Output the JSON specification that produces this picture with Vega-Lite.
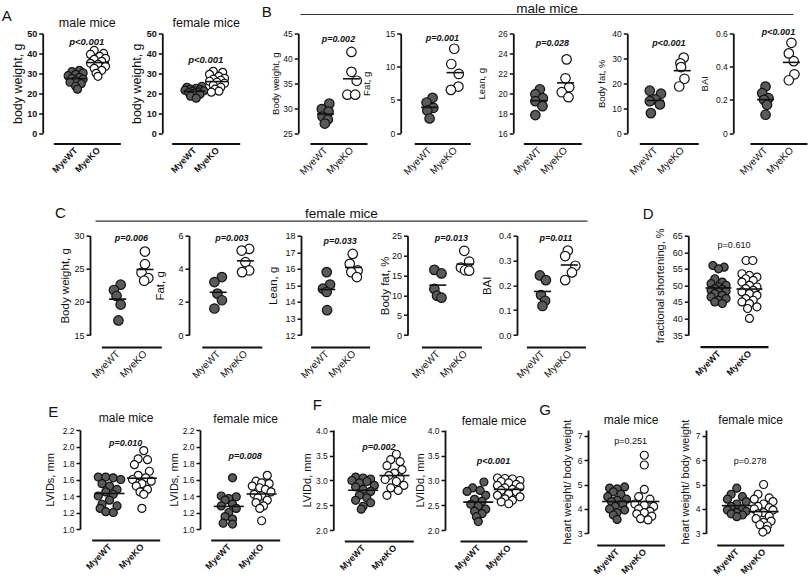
{
"$schema":"https://vega.github.io/schema/vega-lite/v6.json",
"autosize":{"type":"none"},
"padding":{"left":53.3,"top":33.5,"right":756.7,"bottom":546.5},
"background":"white",
"config":{
 "view":{"stroke":null},
 "font":"Liberation Sans",
 "axis":{"grid":false,"domainColor":"#111","tickColor":"#111","labelColor":"#111","titleColor":"#111","titleFontWeight":"normal","labelFont":"Liberation Sans","titleFont":"Liberation Sans","labelOverlap":false},
 "axisY":{"domainWidth":1.8,"tickWidth":1.5,"tickSize":4,"labelPadding":2,"titlePadding":2,"labelOverlap":false,"labelBound":false,"labelFlush":false},
 "axisBottom":{"domainWidth":2.2,"ticks":false,"labelAngle":-45,"labelAlign":"right","labelBaseline":"middle","labelPadding":5,"labelOverlap":false},
 "axisTop":{"domain":false,"ticks":false,"labels":false,"titlePadding":4},
 "title":{"anchor":"start","frame":"group","fontSize":15,"fontWeight":"normal","offset":0,"color":"#111","font":"Liberation Sans"},
 "text":{"font":"Liberation Sans"}
},
"datasets":{
 "pv":[
  {"p":"A1","t":"p<0.001"},{"p":"A2","t":"p<0.001"},
  {"p":"B1","t":"p=0.002"},{"p":"B2","t":"p=0.001"},{"p":"B3","t":"p=0.028"},{"p":"B4","t":"p<0.001"},{"p":"B5","t":"p<0.001"},
  {"p":"C1","t":"p=0.006"},{"p":"C2","t":"p=0.003"},{"p":"C3","t":"p=0.033"},{"p":"C4","t":"p=0.013"},{"p":"C5","t":"p=0.011"},
  {"p":"D","t":"p=0.610"},
  {"p":"E1","t":"p=0.010"},{"p":"E2","t":"p=0.008"},
  {"p":"F1","t":"p=0.002"},{"p":"F2","t":"p<0.001"},
  {"p":"G1","t":"p=0.251"},{"p":"G2","t":"p=0.278"}
 ],
 "pts":[
  {"p":"A1","g":"MyeWT","v":31.5,"j":1},{"p":"A1","g":"MyeWT","v":30.8,"j":-1},{"p":"A1","g":"MyeWT","v":30.2,"j":2},{"p":"A1","g":"MyeWT","v":29.5,"j":0},{"p":"A1","g":"MyeWT","v":28.8,"j":-2},{"p":"A1","g":"MyeWT","v":28,"j":1},{"p":"A1","g":"MyeWT","v":27.5,"j":-1},{"p":"A1","g":"MyeWT","v":27,"j":2},{"p":"A1","g":"MyeWT","v":26.3,"j":0},{"p":"A1","g":"MyeWT","v":25.5,"j":-1.5},{"p":"A1","g":"MyeWT","v":24.8,"j":1.5},{"p":"A1","g":"MyeWT","v":23.5,"j":0},{"p":"A1","g":"MyeWT","v":22,"j":0.5},
  {"p":"A1","g":"MyeKO","v":41.5,"j":-1},{"p":"A1","g":"MyeKO","v":40,"j":1.5},{"p":"A1","g":"MyeKO","v":39.5,"j":-2},{"p":"A1","g":"MyeKO","v":38.5,"j":0.5},{"p":"A1","g":"MyeKO","v":37.5,"j":2},{"p":"A1","g":"MyeKO","v":37,"j":-1},{"p":"A1","g":"MyeKO","v":36,"j":1},{"p":"A1","g":"MyeKO","v":35,"j":-2},{"p":"A1","g":"MyeKO","v":34.5,"j":0},{"p":"A1","g":"MyeKO","v":33.5,"j":2},{"p":"A1","g":"MyeKO","v":32.5,"j":-1},{"p":"A1","g":"MyeKO","v":31.5,"j":1},{"p":"A1","g":"MyeKO","v":30,"j":-0.5},{"p":"A1","g":"MyeKO","v":28.5,"j":0},
  {"p":"A2","g":"MyeWT","v":23.5,"j":2},{"p":"A2","g":"MyeWT","v":23,"j":-2},{"p":"A2","g":"MyeWT","v":22.5,"j":0.5},{"p":"A2","g":"MyeWT","v":22,"j":-1},{"p":"A2","g":"MyeWT","v":21.8,"j":1.5},{"p":"A2","g":"MyeWT","v":21.5,"j":-2.5},{"p":"A2","g":"MyeWT","v":21.2,"j":2.5},{"p":"A2","g":"MyeWT","v":21,"j":-0.5},{"p":"A2","g":"MyeWT","v":20.7,"j":1},{"p":"A2","g":"MyeWT","v":20.3,"j":-1.5},{"p":"A2","g":"MyeWT","v":20,"j":0},{"p":"A2","g":"MyeWT","v":19.5,"j":1.5},{"p":"A2","g":"MyeWT","v":18.5,"j":-1},{"p":"A2","g":"MyeWT","v":17.5,"j":0.5},
  {"p":"A2","g":"MyeKO","v":31,"j":-1},{"p":"A2","g":"MyeKO","v":30.5,"j":1.5},{"p":"A2","g":"MyeKO","v":29.5,"j":-2},{"p":"A2","g":"MyeKO","v":28.5,"j":0.5},{"p":"A2","g":"MyeKO","v":27.5,"j":2},{"p":"A2","g":"MyeKO","v":27,"j":-1},{"p":"A2","g":"MyeKO","v":26.5,"j":1},{"p":"A2","g":"MyeKO","v":26,"j":-2},{"p":"A2","g":"MyeKO","v":25.5,"j":0},{"p":"A2","g":"MyeKO","v":25,"j":2},{"p":"A2","g":"MyeKO","v":24,"j":-1},{"p":"A2","g":"MyeKO","v":23,"j":1},{"p":"A2","g":"MyeKO","v":22,"j":-0.5},{"p":"A2","g":"MyeKO","v":21,"j":0.5},{"p":"A2","g":"MyeKO","v":20.5,"j":-1.5},
  {"p":"B1","g":"MyeWT","v":30.9,"j":1},{"p":"B1","g":"MyeWT","v":29.8,"j":-1},{"p":"B1","g":"MyeWT","v":29.3,"j":0.8},{"p":"B1","g":"MyeWT","v":28.3,"j":-0.8},{"p":"B1","g":"MyeWT","v":27.7,"j":0.6},{"p":"B1","g":"MyeWT","v":26.9,"j":-0.2},
  {"p":"B1","g":"MyeKO","v":41.3,"j":0},{"p":"B1","g":"MyeKO","v":37.3,"j":0},{"p":"B1","g":"MyeKO","v":35.5,"j":1.4},{"p":"B1","g":"MyeKO","v":32.7,"j":-1.1},{"p":"B1","g":"MyeKO","v":32.7,"j":1.0},
  {"p":"B2","g":"MyeWT","v":5.3,"j":0.8},{"p":"B2","g":"MyeWT","v":4.6,"j":-0.8},{"p":"B2","g":"MyeWT","v":3.8,"j":1},{"p":"B2","g":"MyeWT","v":3.4,"j":-0.6},{"p":"B2","g":"MyeWT","v":2.2,"j":0},
  {"p":"B2","g":"MyeKO","v":12.7,"j":-0.2},{"p":"B2","g":"MyeKO","v":10.4,"j":-1},{"p":"B2","g":"MyeKO","v":8.9,"j":1},{"p":"B2","g":"MyeKO","v":7.0,"j":0.9},{"p":"B2","g":"MyeKO","v":6.5,"j":-1.1},
  {"p":"B3","g":"MyeWT","v":20.4,"j":0.2},{"p":"B3","g":"MyeWT","v":19.9,"j":-1},{"p":"B3","g":"MyeWT","v":19.5,"j":1},{"p":"B3","g":"MyeWT","v":19.2,"j":-1},{"p":"B3","g":"MyeWT","v":18.7,"j":0.9},{"p":"B3","g":"MyeWT","v":17.8,"j":-1},
  {"p":"B3","g":"MyeKO","v":23.4,"j":0.3},{"p":"B3","g":"MyeKO","v":21.5,"j":0},{"p":"B3","g":"MyeKO","v":20.6,"j":1},{"p":"B3","g":"MyeKO","v":20.1,"j":-1},{"p":"B3","g":"MyeKO","v":19.6,"j":0.8},
  {"p":"B4","g":"MyeWT","v":17,"j":-1.5},{"p":"B4","g":"MyeWT","v":15.8,"j":1.5},{"p":"B4","g":"MyeWT","v":13.5,"j":0},{"p":"B4","g":"MyeWT","v":12.8,"j":-1.5},{"p":"B4","g":"MyeWT","v":11.5,"j":1.2},{"p":"B4","g":"MyeWT","v":8,"j":-1.2},
  {"p":"B4","g":"MyeKO","v":30.3,"j":0.4},{"p":"B4","g":"MyeKO","v":28,"j":-0.5},{"p":"B4","g":"MyeKO","v":26.5,"j":-0.3},{"p":"B4","g":"MyeKO","v":21.8,"j":0.6},{"p":"B4","g":"MyeKO","v":18.7,"j":-0.8},
  {"p":"B5","g":"MyeWT","v":0.28,"j":0},{"p":"B5","g":"MyeWT","v":0.24,"j":-0.9},{"p":"B5","g":"MyeWT","v":0.21,"j":0.8},{"p":"B5","g":"MyeWT","v":0.20,"j":-0.4},{"p":"B5","g":"MyeWT","v":0.17,"j":0.4},{"p":"B5","g":"MyeWT","v":0.11,"j":0},
  {"p":"B5","g":"MyeKO","v":0.544,"j":0},{"p":"B5","g":"MyeKO","v":0.48,"j":-0.7},{"p":"B5","g":"MyeKO","v":0.433,"j":0.6},{"p":"B5","g":"MyeKO","v":0.354,"j":0.8},{"p":"B5","g":"MyeKO","v":0.318,"j":-0.7},
  {"p":"C1","g":"MyeWT","v":22.6,"j":0.8},{"p":"C1","g":"MyeWT","v":21.8,"j":-1},{"p":"C1","g":"MyeWT","v":20.9,"j":-0.3},{"p":"C1","g":"MyeWT","v":19.6,"j":0.8},{"p":"C1","g":"MyeWT","v":17.2,"j":0.2},
  {"p":"C1","g":"MyeKO","v":27.6,"j":0},{"p":"C1","g":"MyeKO","v":25.7,"j":0},{"p":"C1","g":"MyeKO","v":24.4,"j":-0.9},{"p":"C1","g":"MyeKO","v":23.6,"j":0.9},{"p":"C1","g":"MyeKO","v":23.2,"j":-0.2},
  {"p":"C2","g":"MyeWT","v":3.5,"j":1},{"p":"C2","g":"MyeWT","v":3.2,"j":-1},{"p":"C2","g":"MyeWT","v":2.5,"j":-0.2},{"p":"C2","g":"MyeWT","v":2.1,"j":1},{"p":"C2","g":"MyeWT","v":1.6,"j":-1},
  {"p":"C2","g":"MyeKO","v":5.2,"j":1},{"p":"C2","g":"MyeKO","v":5.1,"j":-1},{"p":"C2","g":"MyeKO","v":4.4,"j":0},{"p":"C2","g":"MyeKO","v":3.9,"j":1},{"p":"C2","g":"MyeKO","v":3.8,"j":-0.9},
  {"p":"C3","g":"MyeWT","v":15.8,"j":0},{"p":"C3","g":"MyeWT","v":15.05,"j":0.9},{"p":"C3","g":"MyeWT","v":14.8,"j":-1},{"p":"C3","g":"MyeWT","v":14.6,"j":0},{"p":"C3","g":"MyeWT","v":13.5,"j":0.1},
  {"p":"C3","g":"MyeKO","v":16.9,"j":-0.2},{"p":"C3","g":"MyeKO","v":16.3,"j":-1},{"p":"C3","g":"MyeKO","v":15.9,"j":1.1},{"p":"C3","g":"MyeKO","v":15.8,"j":-0.6},{"p":"C3","g":"MyeKO","v":15.5,"j":0.9},
  {"p":"C4","g":"MyeWT","v":16.4,"j":-0.9},{"p":"C4","g":"MyeWT","v":15.5,"j":1},{"p":"C4","g":"MyeWT","v":11.6,"j":-0.9},{"p":"C4","g":"MyeWT","v":9.9,"j":-0.2},{"p":"C4","g":"MyeWT","v":9.4,"j":1},
  {"p":"C4","g":"MyeKO","v":21.2,"j":-0.2},{"p":"C4","g":"MyeKO","v":18.5,"j":1.1},{"p":"C4","g":"MyeKO","v":17.0,"j":-1.1},{"p":"C4","g":"MyeKO","v":16.3,"j":0},{"p":"C4","g":"MyeKO","v":16.2,"j":1.1},
  {"p":"C5","g":"MyeWT","v":0.24,"j":-0.7},{"p":"C5","g":"MyeWT","v":0.221,"j":0.9},{"p":"C5","g":"MyeWT","v":0.161,"j":-0.4},{"p":"C5","g":"MyeWT","v":0.138,"j":0.7},{"p":"C5","g":"MyeWT","v":0.117,"j":0},
  {"p":"C5","g":"MyeKO","v":0.34,"j":-0.4},{"p":"C5","g":"MyeKO","v":0.318,"j":-1.1},{"p":"C5","g":"MyeKO","v":0.279,"j":1.6},{"p":"C5","g":"MyeKO","v":0.252,"j":0.7},{"p":"C5","g":"MyeKO","v":0.221,"j":-1.1},
  {"p":"D","g":"MyeWT","v":56,"j":-1.5},{"p":"D","g":"MyeWT","v":55.5,"j":1.5},{"p":"D","g":"MyeWT","v":55,"j":0},{"p":"D","g":"MyeWT","v":52,"j":-1},{"p":"D","g":"MyeWT","v":51,"j":1},{"p":"D","g":"MyeWT","v":50.5,"j":-2},{"p":"D","g":"MyeWT","v":50,"j":2},{"p":"D","g":"MyeWT","v":49.5,"j":0},{"p":"D","g":"MyeWT","v":49,"j":-1},{"p":"D","g":"MyeWT","v":48.8,"j":1},{"p":"D","g":"MyeWT","v":48.5,"j":-2},{"p":"D","g":"MyeWT","v":48.2,"j":2},{"p":"D","g":"MyeWT","v":48,"j":0},{"p":"D","g":"MyeWT","v":47.5,"j":-1},{"p":"D","g":"MyeWT","v":47,"j":1},{"p":"D","g":"MyeWT","v":46.5,"j":-2},{"p":"D","g":"MyeWT","v":46,"j":2},{"p":"D","g":"MyeWT","v":45.5,"j":0},{"p":"D","g":"MyeWT","v":45,"j":-1},{"p":"D","g":"MyeWT","v":44.5,"j":1},
  {"p":"D","g":"MyeKO","v":57.5,"j":-0.9},{"p":"D","g":"MyeKO","v":57.5,"j":0.9},{"p":"D","g":"MyeKO","v":53.5,"j":-2},{"p":"D","g":"MyeKO","v":53,"j":0},{"p":"D","g":"MyeKO","v":52.5,"j":2},{"p":"D","g":"MyeKO","v":52,"j":-1},{"p":"D","g":"MyeKO","v":51.5,"j":1},{"p":"D","g":"MyeKO","v":51,"j":-2},{"p":"D","g":"MyeKO","v":50,"j":0},{"p":"D","g":"MyeKO","v":49.5,"j":2},{"p":"D","g":"MyeKO","v":49,"j":-1},{"p":"D","g":"MyeKO","v":48.5,"j":1},{"p":"D","g":"MyeKO","v":48,"j":-2},{"p":"D","g":"MyeKO","v":47.5,"j":0},{"p":"D","g":"MyeKO","v":47,"j":2},{"p":"D","g":"MyeKO","v":46,"j":-1},{"p":"D","g":"MyeKO","v":45.5,"j":1},{"p":"D","g":"MyeKO","v":45,"j":-2},{"p":"D","g":"MyeKO","v":44.5,"j":0},{"p":"D","g":"MyeKO","v":43.5,"j":2},{"p":"D","g":"MyeKO","v":43,"j":-0.5},{"p":"D","g":"MyeKO","v":40,"j":0},
  {"p":"E1","g":"MyeWT","v":1.63,"j":-3},{"p":"E1","g":"MyeWT","v":1.63,"j":-1},{"p":"E1","g":"MyeWT","v":1.62,"j":1},{"p":"E1","g":"MyeWT","v":1.6,"j":3},{"p":"E1","g":"MyeWT","v":1.55,"j":-2},{"p":"E1","g":"MyeWT","v":1.52,"j":0},{"p":"E1","g":"MyeWT","v":1.48,"j":2},{"p":"E1","g":"MyeWT","v":1.45,"j":-1},{"p":"E1","g":"MyeWT","v":1.42,"j":1},{"p":"E1","g":"MyeWT","v":1.4,"j":-3},{"p":"E1","g":"MyeWT","v":1.35,"j":0},{"p":"E1","g":"MyeWT","v":1.3,"j":-2},{"p":"E1","g":"MyeWT","v":1.28,"j":2},{"p":"E1","g":"MyeWT","v":1.25,"j":-2.5},{"p":"E1","g":"MyeWT","v":1.21,"j":-1},{"p":"E1","g":"MyeWT","v":1.2,"j":1},
  {"p":"E1","g":"MyeKO","v":1.95,"j":0.5},{"p":"E1","g":"MyeKO","v":1.85,"j":-1},{"p":"E1","g":"MyeKO","v":1.84,"j":1.5},{"p":"E1","g":"MyeKO","v":1.78,"j":-2},{"p":"E1","g":"MyeKO","v":1.7,"j":2},{"p":"E1","g":"MyeKO","v":1.65,"j":-1},{"p":"E1","g":"MyeKO","v":1.62,"j":1},{"p":"E1","g":"MyeKO","v":1.6,"j":-2.5},{"p":"E1","g":"MyeKO","v":1.58,"j":2.5},{"p":"E1","g":"MyeKO","v":1.55,"j":0},{"p":"E1","g":"MyeKO","v":1.52,"j":-1.5},{"p":"E1","g":"MyeKO","v":1.48,"j":1.5},{"p":"E1","g":"MyeKO","v":1.45,"j":-0.5},{"p":"E1","g":"MyeKO","v":1.42,"j":0.5},{"p":"E1","g":"MyeKO","v":1.25,"j":0},
  {"p":"E2","g":"MyeWT","v":1.62,"j":1},{"p":"E2","g":"MyeWT","v":1.4,"j":-2},{"p":"E2","g":"MyeWT","v":1.39,"j":2},{"p":"E2","g":"MyeWT","v":1.37,"j":0},{"p":"E2","g":"MyeWT","v":1.35,"j":-1},{"p":"E2","g":"MyeWT","v":1.3,"j":1},{"p":"E2","g":"MyeWT","v":1.28,"j":-2},{"p":"E2","g":"MyeWT","v":1.25,"j":2},{"p":"E2","g":"MyeWT","v":1.2,"j":0},{"p":"E2","g":"MyeWT","v":1.15,"j":-1},{"p":"E2","g":"MyeWT","v":1.12,"j":1},{"p":"E2","g":"MyeWT","v":1.07,"j":-1.5},{"p":"E2","g":"MyeWT","v":1.06,"j":1},
  {"p":"E2","g":"MyeKO","v":1.65,"j":1.5},{"p":"E2","g":"MyeKO","v":1.58,"j":-1.5},{"p":"E2","g":"MyeKO","v":1.56,"j":0},{"p":"E2","g":"MyeKO","v":1.55,"j":2},{"p":"E2","g":"MyeKO","v":1.52,"j":-2.5},{"p":"E2","g":"MyeKO","v":1.5,"j":-0.5},{"p":"E2","g":"MyeKO","v":1.48,"j":1},{"p":"E2","g":"MyeKO","v":1.45,"j":2.5},{"p":"E2","g":"MyeKO","v":1.42,"j":-2},{"p":"E2","g":"MyeKO","v":1.4,"j":0},{"p":"E2","g":"MyeKO","v":1.38,"j":-1},{"p":"E2","g":"MyeKO","v":1.35,"j":1.5},{"p":"E2","g":"MyeKO","v":1.32,"j":-1.5},{"p":"E2","g":"MyeKO","v":1.28,"j":0.5},{"p":"E2","g":"MyeKO","v":1.25,"j":-0.5},{"p":"E2","g":"MyeKO","v":1.1,"j":0},
  {"p":"F1","g":"MyeWT","v":3.07,"j":-2},{"p":"F1","g":"MyeWT","v":3.05,"j":0},{"p":"F1","g":"MyeWT","v":3.03,"j":2},{"p":"F1","g":"MyeWT","v":3.0,"j":-3},{"p":"F1","g":"MyeWT","v":2.98,"j":1},{"p":"F1","g":"MyeWT","v":2.95,"j":-1},{"p":"F1","g":"MyeWT","v":2.9,"j":3},{"p":"F1","g":"MyeWT","v":2.87,"j":-2},{"p":"F1","g":"MyeWT","v":2.82,"j":0},{"p":"F1","g":"MyeWT","v":2.78,"j":2},{"p":"F1","g":"MyeWT","v":2.7,"j":-1},{"p":"F1","g":"MyeWT","v":2.65,"j":1},{"p":"F1","g":"MyeWT","v":2.6,"j":-2},{"p":"F1","g":"MyeWT","v":2.55,"j":2},{"p":"F1","g":"MyeWT","v":2.48,"j":0},{"p":"F1","g":"MyeWT","v":2.42,"j":-0.5},
  {"p":"F1","g":"MyeKO","v":3.53,"j":0.5},{"p":"F1","g":"MyeKO","v":3.42,"j":-1},{"p":"F1","g":"MyeKO","v":3.38,"j":1.5},{"p":"F1","g":"MyeKO","v":3.3,"j":-2},{"p":"F1","g":"MyeKO","v":3.22,"j":2},{"p":"F1","g":"MyeKO","v":3.15,"j":0},{"p":"F1","g":"MyeKO","v":3.1,"j":-1.5},{"p":"F1","g":"MyeKO","v":3.05,"j":1.5},{"p":"F1","g":"MyeKO","v":3.02,"j":-2.5},{"p":"F1","g":"MyeKO","v":2.98,"j":0.5},{"p":"F1","g":"MyeKO","v":2.9,"j":2.5},{"p":"F1","g":"MyeKO","v":2.85,"j":-1},{"p":"F1","g":"MyeKO","v":2.8,"j":1},{"p":"F1","g":"MyeKO","v":2.7,"j":-2},
  {"p":"F2","g":"MyeWT","v":2.97,"j":1.5},{"p":"F2","g":"MyeWT","v":2.85,"j":-1.5},{"p":"F2","g":"MyeWT","v":2.8,"j":0.5},{"p":"F2","g":"MyeWT","v":2.78,"j":-3},{"p":"F2","g":"MyeWT","v":2.7,"j":2},{"p":"F2","g":"MyeWT","v":2.62,"j":-1},{"p":"F2","g":"MyeWT","v":2.58,"j":1},{"p":"F2","g":"MyeWT","v":2.52,"j":-2},{"p":"F2","g":"MyeWT","v":2.48,"j":0},{"p":"F2","g":"MyeWT","v":2.42,"j":2},{"p":"F2","g":"MyeWT","v":2.38,"j":-1},{"p":"F2","g":"MyeWT","v":2.33,"j":1},{"p":"F2","g":"MyeWT","v":2.27,"j":-0.5},{"p":"F2","g":"MyeWT","v":2.17,"j":0},
  {"p":"F2","g":"MyeKO","v":3.05,"j":-3},{"p":"F2","g":"MyeKO","v":3.04,"j":-1},{"p":"F2","g":"MyeKO","v":3.03,"j":1},{"p":"F2","g":"MyeKO","v":3.0,"j":3},{"p":"F2","g":"MyeKO","v":2.98,"j":-2},{"p":"F2","g":"MyeKO","v":2.95,"j":0},{"p":"F2","g":"MyeKO","v":2.92,"j":2},{"p":"F2","g":"MyeKO","v":2.9,"j":-3},{"p":"F2","g":"MyeKO","v":2.87,"j":3},{"p":"F2","g":"MyeKO","v":2.85,"j":-1},{"p":"F2","g":"MyeKO","v":2.82,"j":1},{"p":"F2","g":"MyeKO","v":2.8,"j":-2},{"p":"F2","g":"MyeKO","v":2.77,"j":2},{"p":"F2","g":"MyeKO","v":2.73,"j":0},{"p":"F2","g":"MyeKO","v":2.7,"j":-3},{"p":"F2","g":"MyeKO","v":2.67,"j":3},{"p":"F2","g":"MyeKO","v":2.63,"j":-1},{"p":"F2","g":"MyeKO","v":2.6,"j":1},{"p":"F2","g":"MyeKO","v":2.57,"j":-2},{"p":"F2","g":"MyeKO","v":2.53,"j":0},
  {"p":"G1","g":"MyeWT","v":4.9,"j":2},{"p":"G1","g":"MyeWT","v":4.85,"j":-2},{"p":"G1","g":"MyeWT","v":4.82,"j":0},{"p":"G1","g":"MyeWT","v":4.7,"j":-1},{"p":"G1","g":"MyeWT","v":4.6,"j":1},{"p":"G1","g":"MyeWT","v":4.5,"j":-2.5},{"p":"G1","g":"MyeWT","v":4.4,"j":2.5},{"p":"G1","g":"MyeWT","v":4.35,"j":0},{"p":"G1","g":"MyeWT","v":4.3,"j":-1.5},{"p":"G1","g":"MyeWT","v":4.2,"j":1.5},{"p":"G1","g":"MyeWT","v":4.1,"j":-0.5},{"p":"G1","g":"MyeWT","v":4.0,"j":-2},{"p":"G1","g":"MyeWT","v":3.95,"j":2},{"p":"G1","g":"MyeWT","v":3.85,"j":0},{"p":"G1","g":"MyeWT","v":3.75,"j":-1},{"p":"G1","g":"MyeWT","v":3.57,"j":0},
  {"p":"G1","g":"MyeKO","v":6.2,"j":0},{"p":"G1","g":"MyeKO","v":5.8,"j":0},{"p":"G1","g":"MyeKO","v":4.8,"j":0},{"p":"G1","g":"MyeKO","v":4.5,"j":-1.5},{"p":"G1","g":"MyeKO","v":4.4,"j":1.5},{"p":"G1","g":"MyeKO","v":4.2,"j":-2.5},{"p":"G1","g":"MyeKO","v":4.15,"j":0},{"p":"G1","g":"MyeKO","v":4.1,"j":2.5},{"p":"G1","g":"MyeKO","v":4.0,"j":-1.5},{"p":"G1","g":"MyeKO","v":3.9,"j":1.5},{"p":"G1","g":"MyeKO","v":3.85,"j":0},{"p":"G1","g":"MyeKO","v":3.8,"j":-2},{"p":"G1","g":"MyeKO","v":3.7,"j":2},{"p":"G1","g":"MyeKO","v":3.6,"j":-1},{"p":"G1","g":"MyeKO","v":3.55,"j":1},
  {"p":"G2","g":"MyeWT","v":4.85,"j":0},{"p":"G2","g":"MyeWT","v":4.6,"j":-1.5},{"p":"G2","g":"MyeWT","v":4.5,"j":1.5},{"p":"G2","g":"MyeWT","v":4.4,"j":-2.5},{"p":"G2","g":"MyeWT","v":4.3,"j":2.5},{"p":"G2","g":"MyeWT","v":4.2,"j":0},{"p":"G2","g":"MyeWT","v":4.1,"j":-1.5},{"p":"G2","g":"MyeWT","v":4.0,"j":1.5},{"p":"G2","g":"MyeWT","v":3.95,"j":-2.5},{"p":"G2","g":"MyeWT","v":3.9,"j":2.5},{"p":"G2","g":"MyeWT","v":3.85,"j":0},{"p":"G2","g":"MyeWT","v":3.8,"j":-1.5},{"p":"G2","g":"MyeWT","v":3.75,"j":1.5},{"p":"G2","g":"MyeWT","v":3.68,"j":0},
  {"p":"G2","g":"MyeKO","v":5.0,"j":0},{"p":"G2","g":"MyeKO","v":4.6,"j":-1.5},{"p":"G2","g":"MyeKO","v":4.45,"j":1.5},{"p":"G2","g":"MyeKO","v":4.4,"j":-2.5},{"p":"G2","g":"MyeKO","v":4.3,"j":2.5},{"p":"G2","g":"MyeKO","v":4.2,"j":0},{"p":"G2","g":"MyeKO","v":4.1,"j":-1.5},{"p":"G2","g":"MyeKO","v":4.05,"j":1.5},{"p":"G2","g":"MyeKO","v":4.0,"j":-2.5},{"p":"G2","g":"MyeKO","v":3.95,"j":2.5},{"p":"G2","g":"MyeKO","v":3.85,"j":0},{"p":"G2","g":"MyeKO","v":3.8,"j":-1.5},{"p":"G2","g":"MyeKO","v":3.7,"j":1.5},{"p":"G2","g":"MyeKO","v":3.6,"j":-2},{"p":"G2","g":"MyeKO","v":3.5,"j":2},{"p":"G2","g":"MyeKO","v":3.45,"j":0},{"p":"G2","g":"MyeKO","v":3.35,"j":-1},{"p":"G2","g":"MyeKO","v":3.3,"j":1},{"p":"G2","g":"MyeKO","v":3.15,"j":0.8},{"p":"G2","g":"MyeKO","v":3.05,"j":-0.2}
 ]
},
"bounds":"flush",
"spacing":202.2,
"vconcat":[
 {"hconcat":[
   {"hconcat":[
     {"width":67,"height":99.5,"title":{"text":"A","dx":-51.6,"dy":12},"resolve":{"scale":{"x":"independent"}},
      "layer":[
       {"data":{"name":"pts"},"transform":[{"filter":"datum.p=='A1'"}],
        "encoding":{"x":{"field":"g","type":"nominal","title":null,"scale":{"type":"point","domain":["MyeWT","MyeKO"],"padding":1},"axis":{"offset":10.5,"labelFontSize":9,"labelFontWeight":"bold"}},
                    "y":{"field":"v","type":"quantitative","title":"body weight, g","scale":{"domain":[0,50],"nice":false,"zero":false},"axis":{"values":[0,10,20,30,40,50],"labelOverlap":false,"offset":10.6,"labelFontSize":9,"labelFontWeight":"bold","titleFontSize":12.5,"titlePadding":2}}},
        "layer":[
         {"mark":{"type":"point","filled":true,"size":64,"stroke":"#111","strokeWidth":1.2,"opacity":1},"encoding":{"xOffset":{"field":"j","type":"quantitative","scale":{"domain":[-4,4],"range":[-15,15]}},"fill":{"field":"g","type":"nominal","scale":{"domain":["MyeWT","MyeKO"],"range":["#5a5a5a","#ffffff"]},"legend":null}}},
         {"mark":{"type":"tick","orient":"horizontal","size":22,"thickness":1.6,"color":"#111"},"encoding":{"y":{"aggregate":"mean","field":"v","type":"quantitative","title":"body weight, g","scale":{"domain":[0,50],"nice":false,"zero":false},"axis":{"values":[0,10,20,30,40,50],"labelOverlap":false}}}}
        ]},
       {"data":{"name":"pv"},"transform":[{"filter":"datum.p=='A1'"}],"mark":{"type":"text","fontSize":9.5,"fontWeight":"bold","fontStyle":"italic","color":"#111"},"encoding":{"text":{"field":"t"},"y":{"datum":45.9,"type":"quantitative","scale":{"domain":[0,50],"nice":false,"zero":false},"axis":{"values":[0,10,20,30,40,50],"labelOverlap":false}}}},
       {"data":{"name":"pv"},"transform":[{"filter":"datum.p=='A1'"}],"mark":{"type":"point","opacity":0},"encoding":{"x":{"datum":0,"type":"quantitative","scale":{"domain":[0,1]},"axis":{"orient":"top","title":"male mice","titleFontSize":12.5,"titlePadding":4.2}}}}
      ]},
     {"width":68,"height":99.5,"resolve":{"scale":{"x":"independent"}},
      "layer":[
       {"data":{"name":"pts"},"transform":[{"filter":"datum.p=='A2'"}],
        "encoding":{"x":{"field":"g","type":"nominal","title":null,"scale":{"type":"point","domain":["MyeWT","MyeKO"],"padding":1},"axis":{"offset":10.5,"labelFontSize":9,"labelFontWeight":"bold"}},
                    "y":{"field":"v","type":"quantitative","title":"body weight, g","scale":{"domain":[0,50],"nice":false,"zero":false},"axis":{"values":[0,10,20,30,40,50],"labelOverlap":false,"offset":9.4,"labelFontSize":9,"labelFontWeight":"bold","titleFontSize":12.5,"titlePadding":3}}},
        "layer":[
         {"mark":{"type":"point","filled":true,"size":64,"stroke":"#111","strokeWidth":1.2,"opacity":1},"encoding":{"xOffset":{"field":"j","type":"quantitative","scale":{"domain":[-4,4],"range":[-15,15]}},"fill":{"field":"g","type":"nominal","scale":{"domain":["MyeWT","MyeKO"],"range":["#5a5a5a","#ffffff"]},"legend":null}}},
         {"mark":{"type":"tick","orient":"horizontal","size":22,"thickness":1.6,"color":"#111"},"encoding":{"y":{"aggregate":"mean","field":"v","type":"quantitative","title":"body weight, g","scale":{"domain":[0,50],"nice":false,"zero":false},"axis":{"values":[0,10,20,30,40,50],"labelOverlap":false}}}}
        ]},
       {"data":{"name":"pv"},"transform":[{"filter":"datum.p=='A2'"}],"mark":{"type":"text","fontSize":9.5,"fontWeight":"bold","fontStyle":"italic","color":"#111"},"encoding":{"text":{"field":"t"},"y":{"datum":36.7,"type":"quantitative","scale":{"domain":[0,50],"nice":false,"zero":false},"axis":{"values":[0,10,20,30,40,50],"labelOverlap":false}}}},
       {"data":{"name":"pv"},"transform":[{"filter":"datum.p=='A2'"}],"mark":{"type":"point","opacity":0},"encoding":{"x":{"datum":0,"type":"quantitative","scale":{"domain":[0,1]},"axis":{"orient":"top","title":"female mice","titleFontSize":12.5,"titlePadding":4.2}}}}
      ]}
   ],"spacing":51.4,"bounds":"flush"},
   {"hconcat":[
     {"width":57,"height":99.5,"title":{"text":"B","dx":-48.3,"dy":22},"resolve":{"scale":{"x":"independent"}},
      "layer":[
       {"data":{"name":"pts"},"transform":[{"filter":"datum.p=='B1'"}],
        "encoding":{"x":{"field":"g","type":"nominal","title":null,"scale":{"type":"point","domain":["MyeWT","MyeKO"],"padding":0.6},"axis":{"offset":10.5,"labelFontSize":10}},
                    "y":{"field":"v","type":"quantitative","title":"Body weight, g","scale":{"domain":[25,45],"nice":false,"zero":false},"axis":{"values":[25,30,35,40,45],"labelOverlap":false,"offset":11.7,"labelFontSize":8.5,"titleFontSize":9.5,"titlePadding":2}}},
        "layer":[
         {"mark":{"type":"point","filled":true,"size":90,"stroke":"#111","strokeWidth":1.2,"opacity":1},"encoding":{"xOffset":{"field":"j","type":"quantitative","scale":{"domain":[-4,4],"range":[-18,18]}},"fill":{"field":"g","type":"nominal","scale":{"domain":["MyeWT","MyeKO"],"range":["#5a5a5a","#ffffff"]},"legend":null}}},
         {"mark":{"type":"tick","orient":"horizontal","size":17,"thickness":1.6,"color":"#111"},"encoding":{"y":{"aggregate":"mean","field":"v","type":"quantitative","title":"Body weight, g","scale":{"domain":[25,45],"nice":false,"zero":false},"axis":{"values":[25,30,35,40,45],"labelOverlap":false}}}}
        ]},
       {"data":{"name":"pv"},"transform":[{"filter":"datum.p=='B1'"}],"mark":{"type":"text","fontSize":9,"fontWeight":"bold","fontStyle":"italic","color":"#111"},"encoding":{"text":{"field":"t"},"y":{"datum":43.8,"type":"quantitative","scale":{"domain":[25,45],"nice":false,"zero":false},"axis":{"values":[25,30,35,40,45],"labelOverlap":false}}}},
       {"data":{"name":"pv"},"transform":[{"filter":"datum.p=='B1'"}],"mark":{"type":"point","opacity":0},"encoding":{"x":{"datum":0,"type":"quantitative","scale":{"domain":[0,1],"range":[-10,483]},"axis":{"orient":"top","title":"male mice","domain":true,"domainColor":"#333","domainWidth":1.2,"offset":19.5,"titleFontSize":13.5,"titlePadding":-1.5}}}}
      ]},
     {"hconcat":[
       {"width":56,"height":99.5,"resolve":{"scale":{"x":"independent"}},
        "layer":[
         {"data":{"name":"pts"},"transform":[{"filter":"datum.p=='B2'"}],
          "encoding":{"x":{"field":"g","type":"nominal","title":null,"scale":{"type":"point","domain":["MyeWT","MyeKO"],"padding":0.6},"axis":{"offset":10.5,"labelFontSize":10}},
                      "y":{"field":"v","type":"quantitative","title":"Fat, g","scale":{"domain":[0,15],"nice":false,"zero":false},"axis":{"values":[0,5,10,15],"labelOverlap":false,"offset":13.6,"labelFontSize":8.5,"titleFontSize":9.5,"titlePadding":14}}},
          "layer":[
           {"mark":{"type":"point","filled":true,"size":90,"stroke":"#111","strokeWidth":1.2,"opacity":1},"encoding":{"xOffset":{"field":"j","type":"quantitative","scale":{"domain":[-4,4],"range":[-18,18]}},"fill":{"field":"g","type":"nominal","scale":{"domain":["MyeWT","MyeKO"],"range":["#5a5a5a","#ffffff"]},"legend":null}}},
           {"mark":{"type":"tick","orient":"horizontal","size":17,"thickness":1.6,"color":"#111"},"encoding":{"y":{"aggregate":"mean","field":"v","type":"quantitative","title":"Fat, g","scale":{"domain":[0,15],"nice":false,"zero":false},"axis":{"values":[0,5,10,15],"labelOverlap":false}}}}
          ]},
         {"data":{"name":"pv"},"transform":[{"filter":"datum.p=='B2'"}],"mark":{"type":"text","fontSize":9,"fontWeight":"bold","fontStyle":"italic","color":"#111"},"encoding":{"text":{"field":"t"},"y":{"datum":14.3,"type":"quantitative","scale":{"domain":[0,15],"nice":false,"zero":false},"axis":{"values":[0,5,10,15],"labelOverlap":false}}}}
        ]},
       {"hconcat":[
         {"width":58,"height":99.5,"resolve":{"scale":{"x":"independent"}},
          "layer":[
           {"data":{"name":"pts"},"transform":[{"filter":"datum.p=='B3'"}],
            "encoding":{"x":{"field":"g","type":"nominal","title":null,"scale":{"type":"point","domain":["MyeWT","MyeKO"],"padding":0.6},"axis":{"offset":10.5,"labelFontSize":10}},
                        "y":{"field":"v","type":"quantitative","title":"Lean, g","scale":{"domain":[16,26],"nice":false,"zero":false},"axis":{"values":[16,18,20,22,24,26],"labelOverlap":false,"offset":10,"labelFontSize":8.5,"titleFontSize":9.5,"titlePadding":11}}},
            "layer":[
             {"mark":{"type":"point","filled":true,"size":90,"stroke":"#111","strokeWidth":1.2,"opacity":1},"encoding":{"xOffset":{"field":"j","type":"quantitative","scale":{"domain":[-4,4],"range":[-18,18]}},"fill":{"field":"g","type":"nominal","scale":{"domain":["MyeWT","MyeKO"],"range":["#5a5a5a","#ffffff"]},"legend":null}}},
             {"mark":{"type":"tick","orient":"horizontal","size":17,"thickness":1.6,"color":"#111"},"encoding":{"y":{"aggregate":"mean","field":"v","type":"quantitative","title":"Lean, g","scale":{"domain":[16,26],"nice":false,"zero":false},"axis":{"values":[16,18,20,22,24,26],"labelOverlap":false}}}}
            ]},
           {"data":{"name":"pv"},"transform":[{"filter":"datum.p=='B3'"}],"mark":{"type":"text","fontSize":9,"fontWeight":"bold","fontStyle":"italic","color":"#111"},"encoding":{"text":{"field":"t"},"y":{"datum":25.0,"type":"quantitative","scale":{"domain":[16,26],"nice":false,"zero":false},"axis":{"values":[16,18,20,22,24,26],"labelOverlap":false}}}}
          ]},
         {"hconcat":[
           {"width":59,"height":99.5,"resolve":{"scale":{"x":"independent"}},
            "layer":[
             {"data":{"name":"pts"},"transform":[{"filter":"datum.p=='B4'"}],
              "encoding":{"x":{"field":"g","type":"nominal","title":null,"scale":{"type":"point","domain":["MyeWT","MyeKO"],"padding":0.6},"axis":{"offset":10.5,"labelFontSize":10}},
                          "y":{"field":"v","type":"quantitative","title":"Body fat, %","scale":{"domain":[0,40],"nice":false,"zero":false},"axis":{"values":[0,10,20,30,40],"labelOverlap":false,"offset":12,"labelFontSize":8.5,"titleFontSize":9.5,"titlePadding":5.5}}},
              "layer":[
               {"mark":{"type":"point","filled":true,"size":90,"stroke":"#111","strokeWidth":1.2,"opacity":1},"encoding":{"xOffset":{"field":"j","type":"quantitative","scale":{"domain":[-4,4],"range":[-18,18]}},"fill":{"field":"g","type":"nominal","scale":{"domain":["MyeWT","MyeKO"],"range":["#5a5a5a","#ffffff"]},"legend":null}}},
               {"mark":{"type":"tick","orient":"horizontal","size":17,"thickness":1.6,"color":"#111"},"encoding":{"y":{"aggregate":"mean","field":"v","type":"quantitative","title":"Body fat, %","scale":{"domain":[0,40],"nice":false,"zero":false},"axis":{"values":[0,10,20,30,40],"labelOverlap":false}}}}
              ]},
             {"data":{"name":"pv"},"transform":[{"filter":"datum.p=='B4'"}],"mark":{"type":"text","fontSize":9,"fontWeight":"bold","fontStyle":"italic","color":"#111"},"encoding":{"text":{"field":"t"},"y":{"datum":36.1,"type":"quantitative","scale":{"domain":[0,40],"nice":false,"zero":false},"axis":{"values":[0,10,20,30,40],"labelOverlap":false}}}}
            ]},
           {"width":57,"height":99.5,"resolve":{"scale":{"x":"independent"}},
            "layer":[
             {"data":{"name":"pts"},"transform":[{"filter":"datum.p=='B5'"}],
              "encoding":{"x":{"field":"g","type":"nominal","title":null,"scale":{"type":"point","domain":["MyeWT","MyeKO"],"padding":0.6},"axis":{"offset":10.5,"labelFontSize":10}},
                          "y":{"field":"v","type":"quantitative","title":"BAI","scale":{"domain":[0,0.6],"nice":false,"zero":false},"axis":{"values":[0,0.2,0.4,0.6],"labelOverlap":false,"labelExpr":"datum.value == 0 ? '0' : format(datum.value, '.1f')","offset":16.7,"labelFontSize":8.5,"titleFontSize":9.5,"titlePadding":6}}},
              "layer":[
               {"mark":{"type":"point","filled":true,"size":90,"stroke":"#111","strokeWidth":1.2,"opacity":1},"encoding":{"xOffset":{"field":"j","type":"quantitative","scale":{"domain":[-4,4],"range":[-18,18]}},"fill":{"field":"g","type":"nominal","scale":{"domain":["MyeWT","MyeKO"],"range":["#5a5a5a","#ffffff"]},"legend":null}}},
               {"mark":{"type":"tick","orient":"horizontal","size":17,"thickness":1.6,"color":"#111"},"encoding":{"y":{"aggregate":"mean","field":"v","type":"quantitative","title":"BAI","scale":{"domain":[0,0.6],"nice":false,"zero":false},"axis":{"values":[0,0.2,0.4,0.6],"labelOverlap":false,"labelExpr":"datum.value == 0 ? '0' : format(datum.value, '.1f')"}}}}
              ]},
             {"data":{"name":"pv"},"transform":[{"filter":"datum.p=='B5'"}],"mark":{"type":"text","fontSize":9,"fontWeight":"bold","fontStyle":"italic","color":"#111"},"encoding":{"text":{"field":"t"},"y":{"datum":0.607,"type":"quantitative","scale":{"domain":[0,0.6],"nice":false,"zero":false},"axis":{"values":[0,0.2,0.4,0.6],"labelOverlap":false,"labelExpr":"datum.value == 0 ? '0' : format(datum.value, '.1f')"}}}}
            ]}
         ],"spacing":51.7,"bounds":"flush"}
       ],"spacing":58,"bounds":"flush"}
     ],"spacing":53,"bounds":"flush"}
   ],"spacing":47.3,"bounds":"flush"}
 ],"spacing":256.7,"bounds":"flush"},
 {"vconcat":[
   {"hconcat":[
     {"width":1,"height":1,"data":{"name":"pv"},"transform":[{"filter":"false"}],"mark":{"type":"point","opacity":0}},
     {"hconcat":[
       {"hconcat":[
         {"width":60,"height":99.3,"title":{"text":"C","dx":-46.3,"dy":19},"resolve":{"scale":{"x":"independent"}},
          "layer":[
           {"data":{"name":"pts"},"transform":[{"filter":"datum.p=='C1'"}],
            "encoding":{"x":{"field":"g","type":"nominal","title":null,"scale":{"type":"point","domain":["MyeWT","MyeKO"],"padding":0.6},"axis":{"offset":12,"labelFontSize":10}},
                        "y":{"field":"v","type":"quantitative","title":"Body weight, g","scale":{"domain":[15,30],"nice":false,"zero":false},"axis":{"values":[15,20,25,30],"labelOverlap":false,"offset":11.3,"labelFontSize":9,"titleFontSize":11.5,"titlePadding":3.5}}},
            "layer":[
             {"mark":{"type":"point","filled":true,"size":90,"stroke":"#111","strokeWidth":1.2,"opacity":1},"encoding":{"xOffset":{"field":"j","type":"quantitative","scale":{"domain":[-4,4],"range":[-18,18]}},"fill":{"field":"g","type":"nominal","scale":{"domain":["MyeWT","MyeKO"],"range":["#5a5a5a","#ffffff"]},"legend":null}}},
             {"mark":{"type":"tick","orient":"horizontal","size":17,"thickness":1.6,"color":"#111"},"encoding":{"y":{"aggregate":"mean","field":"v","type":"quantitative","title":"Body weight, g","scale":{"domain":[15,30],"nice":false,"zero":false},"axis":{"values":[15,20,25,30],"labelOverlap":false}}}}
            ]},
           {"data":{"name":"pv"},"transform":[{"filter":"datum.p=='C1'"}],"mark":{"type":"text","fontSize":9,"fontWeight":"bold","fontStyle":"italic","color":"#111"},"encoding":{"text":{"field":"t"},"y":{"datum":29.6,"type":"quantitative","scale":{"domain":[15,30],"nice":false,"zero":false},"axis":{"values":[15,20,25,30],"labelOverlap":false}}}},
           {"data":{"name":"pv"},"transform":[{"filter":"datum.p=='C1'"}],"mark":{"type":"point","opacity":0},"encoding":{"x":{"datum":0,"type":"quantitative","scale":{"domain":[0,1],"range":[-6.3,485.7]},"axis":{"orient":"top","title":"female mice","domain":true,"domainColor":"#333","domainWidth":1.2,"offset":15,"titleFontSize":13.5,"titlePadding":0.5}}}}
          ]},
         {"hconcat":[
           {"width":60,"height":99.3,"resolve":{"scale":{"x":"independent"}},
            "layer":[
             {"data":{"name":"pts"},"transform":[{"filter":"datum.p=='C2'"}],
              "encoding":{"x":{"field":"g","type":"nominal","title":null,"scale":{"type":"point","domain":["MyeWT","MyeKO"],"padding":0.6},"axis":{"offset":12,"labelFontSize":10}},
                          "y":{"field":"v","type":"quantitative","title":"Fat, g","scale":{"domain":[0,6],"nice":false,"zero":false},"axis":{"values":[0,2,4,6],"labelOverlap":false,"offset":12.8,"labelFontSize":9,"titleFontSize":11.5,"titlePadding":12}}},
              "layer":[
               {"mark":{"type":"point","filled":true,"size":90,"stroke":"#111","strokeWidth":1.2,"opacity":1},"encoding":{"xOffset":{"field":"j","type":"quantitative","scale":{"domain":[-4,4],"range":[-18,18]}},"fill":{"field":"g","type":"nominal","scale":{"domain":["MyeWT","MyeKO"],"range":["#5a5a5a","#ffffff"]},"legend":null}}},
               {"mark":{"type":"tick","orient":"horizontal","size":17,"thickness":1.6,"color":"#111"},"encoding":{"y":{"aggregate":"mean","field":"v","type":"quantitative","title":"Fat, g","scale":{"domain":[0,6],"nice":false,"zero":false},"axis":{"values":[0,2,4,6],"labelOverlap":false}}}}
              ]},
             {"data":{"name":"pv"},"transform":[{"filter":"datum.p=='C2'"}],"mark":{"type":"text","fontSize":9,"fontWeight":"bold","fontStyle":"italic","color":"#111"},"encoding":{"text":{"field":"t"},"y":{"datum":5.84,"type":"quantitative","scale":{"domain":[0,6],"nice":false,"zero":false},"axis":{"values":[0,2,4,6],"labelOverlap":false}}}}
            ]},
           {"hconcat":[
             {"width":59,"height":99.3,"resolve":{"scale":{"x":"independent"}},
              "layer":[
               {"data":{"name":"pts"},"transform":[{"filter":"datum.p=='C3'"}],
                "encoding":{"x":{"field":"g","type":"nominal","title":null,"scale":{"type":"point","domain":["MyeWT","MyeKO"],"padding":0.6},"axis":{"offset":12,"labelFontSize":10}},
                            "y":{"field":"v","type":"quantitative","title":"Lean, g","scale":{"domain":[12,18],"nice":false,"zero":false},"axis":{"values":[12,13,14,15,16,17,18],"labelOverlap":false,"offset":9.6,"labelFontSize":9,"titleFontSize":11.5,"titlePadding":6}}},
                "layer":[
                 {"mark":{"type":"point","filled":true,"size":90,"stroke":"#111","strokeWidth":1.2,"opacity":1},"encoding":{"xOffset":{"field":"j","type":"quantitative","scale":{"domain":[-4,4],"range":[-18,18]}},"fill":{"field":"g","type":"nominal","scale":{"domain":["MyeWT","MyeKO"],"range":["#5a5a5a","#ffffff"]},"legend":null}}},
                 {"mark":{"type":"tick","orient":"horizontal","size":17,"thickness":1.6,"color":"#111"},"encoding":{"y":{"aggregate":"mean","field":"v","type":"quantitative","title":"Lean, g","scale":{"domain":[12,18],"nice":false,"zero":false},"axis":{"values":[12,13,14,15,16,17,18],"labelOverlap":false}}}}
                ]},
               {"data":{"name":"pv"},"transform":[{"filter":"datum.p=='C3'"}],"mark":{"type":"text","fontSize":9,"fontWeight":"bold","fontStyle":"italic","color":"#111"},"encoding":{"text":{"field":"t"},"y":{"datum":17.7,"type":"quantitative","scale":{"domain":[12,18],"nice":false,"zero":false},"axis":{"values":[12,13,14,15,16,17,18],"labelOverlap":false}}}}
              ]},
             {"hconcat":[
               {"width":60,"height":99.3,"resolve":{"scale":{"x":"independent"}},
                "layer":[
                 {"data":{"name":"pts"},"transform":[{"filter":"datum.p=='C4'"}],
                  "encoding":{"x":{"field":"g","type":"nominal","title":null,"scale":{"type":"point","domain":["MyeWT","MyeKO"],"padding":0.6},"axis":{"offset":12,"labelFontSize":10}},
                              "y":{"field":"v","type":"quantitative","title":"Body fat, %","scale":{"domain":[0,25],"nice":false,"zero":false},"axis":{"values":[0,5,10,15,20,25],"labelOverlap":false,"offset":13.9,"labelFontSize":9,"titleFontSize":11.5,"titlePadding":1}}},
                  "layer":[
                   {"mark":{"type":"point","filled":true,"size":90,"stroke":"#111","strokeWidth":1.2,"opacity":1},"encoding":{"xOffset":{"field":"j","type":"quantitative","scale":{"domain":[-4,4],"range":[-18,18]}},"fill":{"field":"g","type":"nominal","scale":{"domain":["MyeWT","MyeKO"],"range":["#5a5a5a","#ffffff"]},"legend":null}}},
                   {"mark":{"type":"tick","orient":"horizontal","size":17,"thickness":1.6,"color":"#111"},"encoding":{"y":{"aggregate":"mean","field":"v","type":"quantitative","title":"Body fat, %","scale":{"domain":[0,25],"nice":false,"zero":false},"axis":{"values":[0,5,10,15,20,25],"labelOverlap":false}}}}
                  ]},
                 {"data":{"name":"pv"},"transform":[{"filter":"datum.p=='C4'"}],"mark":{"type":"text","fontSize":9,"fontWeight":"bold","fontStyle":"italic","color":"#111"},"encoding":{"text":{"field":"t"},"y":{"datum":24.35,"type":"quantitative","scale":{"domain":[0,25],"nice":false,"zero":false},"axis":{"values":[0,5,10,15,20,25],"labelOverlap":false}}}}
                ]},
               {"width":59,"height":99.3,"resolve":{"scale":{"x":"independent"}},
                "layer":[
                 {"data":{"name":"pts"},"transform":[{"filter":"datum.p=='C5'"}],
                  "encoding":{"x":{"field":"g","type":"nominal","title":null,"scale":{"type":"point","domain":["MyeWT","MyeKO"],"padding":0.6},"axis":{"offset":12,"labelFontSize":10}},
                              "y":{"field":"v","type":"quantitative","title":"BAI","scale":{"domain":[0,0.4],"nice":false,"zero":false},"axis":{"values":[0,0.1,0.2,0.3,0.4],"labelOverlap":false,"format":".1f","offset":9.4,"labelFontSize":9,"titleFontSize":11.5,"titlePadding":5.5}}},
                  "layer":[
                   {"mark":{"type":"point","filled":true,"size":90,"stroke":"#111","strokeWidth":1.2,"opacity":1},"encoding":{"xOffset":{"field":"j","type":"quantitative","scale":{"domain":[-4,4],"range":[-18,18]}},"fill":{"field":"g","type":"nominal","scale":{"domain":["MyeWT","MyeKO"],"range":["#5a5a5a","#ffffff"]},"legend":null}}},
                   {"mark":{"type":"tick","orient":"horizontal","size":17,"thickness":1.6,"color":"#111"},"encoding":{"y":{"aggregate":"mean","field":"v","type":"quantitative","title":"BAI","scale":{"domain":[0,0.4],"nice":false,"zero":false},"axis":{"values":[0,0.1,0.2,0.3,0.4],"labelOverlap":false,"format":".1f"}}}}
                  ]},
                 {"data":{"name":"pv"},"transform":[{"filter":"datum.p=='C5'"}],"mark":{"type":"text","fontSize":9,"fontWeight":"bold","fontStyle":"italic","color":"#111"},"encoding":{"text":{"field":"t"},"y":{"datum":0.39,"type":"quantitative","scale":{"domain":[0,0.4],"nice":false,"zero":false},"axis":{"values":[0,0.1,0.2,0.3,0.4],"labelOverlap":false,"format":".1f"}}}}
                ]}
             ],"spacing":45,"bounds":"flush"}
           ],"spacing":51.8,"bounds":"flush"}
         ],"spacing":48.8,"bounds":"flush"}
       ],"spacing":40.5,"bounds":"flush"},
       {"width":68,"height":99.3,"title":{"text":"D","dx":-57.3,"dy":-2},"resolve":{"scale":{"x":"independent"}},
        "layer":[
         {"data":{"name":"pts"},"transform":[{"filter":"datum.p=='D'"}],
          "encoding":{"x":{"field":"g","type":"nominal","title":null,"scale":{"type":"point","domain":["MyeWT","MyeKO"],"padding":0.6},"axis":{"offset":11.7,"labelFontSize":9,"labelFontWeight":"bold"}},
                      "y":{"field":"v","type":"quantitative","title":"fractional shortening, %","scale":{"domain":[35,65],"nice":false,"zero":false},"axis":{"values":[35,40,45,50,55,60,65],"labelOverlap":false,"offset":11.7,"labelFontSize":9,"titleFontSize":11,"titlePadding":7}}},
          "layer":[
           {"mark":{"type":"point","filled":true,"size":64,"stroke":"#111","strokeWidth":1.2,"opacity":1},"encoding":{"xOffset":{"field":"j","type":"quantitative","scale":{"domain":[-4,4],"range":[-18,18]}},"fill":{"field":"g","type":"nominal","scale":{"domain":["MyeWT","MyeKO"],"range":["#5a5a5a","#ffffff"]},"legend":null}}},
           {"mark":{"type":"tick","orient":"horizontal","size":26,"thickness":1.6,"color":"#111"},"encoding":{"y":{"aggregate":"mean","field":"v","type":"quantitative","title":"fractional shortening, %","scale":{"domain":[35,65],"nice":false,"zero":false},"axis":{"values":[35,40,45,50,55,60,65],"labelOverlap":false}}}}
          ]},
         {"data":{"name":"pv"},"transform":[{"filter":"datum.p=='D'"}],"mark":{"type":"text","fontSize":9,"color":"#111"},"encoding":{"text":{"field":"t"},"y":{"datum":62.2,"type":"quantitative","scale":{"domain":[35,65],"nice":false,"zero":false},"axis":{"values":[35,40,45,50,55,60,65],"labelOverlap":false}}}}
        ]}
     ],"spacing":598.7,"bounds":"flush"}
   ],"spacing":47,"bounds":"flush"},
   {"hconcat":[
     {"width":1,"height":1,"data":{"name":"pv"},"transform":[{"filter":"false"}],"mark":{"type":"point","opacity":0}},
     {"hconcat":[
       {"hconcat":[
         {"width":68,"height":99,"title":{"text":"E","dx":-43.4,"dy":12},"resolve":{"scale":{"x":"independent"}},
          "layer":[
           {"data":{"name":"pts"},"transform":[{"filter":"datum.p=='E1'"}],
            "encoding":{"x":{"field":"g","type":"nominal","title":null,"scale":{"type":"point","domain":["MyeWT","MyeKO"],"padding":0.55},"axis":{"offset":11,"labelFontSize":9,"labelFontWeight":"bold"}},
                        "y":{"field":"v","type":"quantitative","title":"LVIDs, mm","scale":{"domain":[1.0,2.2],"nice":false,"zero":false},"axis":{"values":[1.0,1.2,1.4,1.6,1.8,2.0,2.2],"labelOverlap":false,"format":".1f","offset":11.7,"labelFontSize":8.5,"titleFontSize":11,"titlePadding":7}}},
            "layer":[
             {"mark":{"type":"point","filled":true,"size":64,"stroke":"#111","strokeWidth":1.2,"opacity":1},"encoding":{"xOffset":{"field":"j","type":"quantitative","scale":{"domain":[-4,4],"range":[-18,18]}},"fill":{"field":"g","type":"nominal","scale":{"domain":["MyeWT","MyeKO"],"range":["#5a5a5a","#ffffff"]},"legend":null}}},
             {"mark":{"type":"tick","orient":"horizontal","size":30,"thickness":1.6,"color":"#111"},"encoding":{"y":{"aggregate":"mean","field":"v","type":"quantitative","title":"LVIDs, mm","scale":{"domain":[1.0,2.2],"nice":false,"zero":false},"axis":{"values":[1.0,1.2,1.4,1.6,1.8,2.0,2.2],"labelOverlap":false,"format":".1f"}}}}
            ]},
           {"data":{"name":"pv"},"transform":[{"filter":"datum.p=='E1'"}],"mark":{"type":"text","fontSize":9,"fontWeight":"bold","fontStyle":"italic","color":"#111"},"encoding":{"text":{"field":"t"},"y":{"datum":2.046,"type":"quantitative","scale":{"domain":[1.0,2.2],"nice":false,"zero":false},"axis":{"values":[1.0,1.2,1.4,1.6,1.8,2.0,2.2],"labelOverlap":false,"format":".1f"}}}},
           {"data":{"name":"pv"},"transform":[{"filter":"datum.p=='E1'"}],"mark":{"type":"point","opacity":0},"encoding":{"x":{"datum":0,"type":"quantitative","scale":{"domain":[0,1]},"axis":{"orient":"top","title":"male mice","titleFontSize":12,"titlePadding":5.2}}}}
          ]},
         {"width":69,"height":99,"resolve":{"scale":{"x":"independent"}},
          "layer":[
           {"data":{"name":"pts"},"transform":[{"filter":"datum.p=='E2'"}],
            "encoding":{"x":{"field":"g","type":"nominal","title":null,"scale":{"type":"point","domain":["MyeWT","MyeKO"],"padding":0.55},"axis":{"offset":11,"labelFontSize":9,"labelFontWeight":"bold"}},
                        "y":{"field":"v","type":"quantitative","title":"LVIDs, mm","scale":{"domain":[1.0,2.2],"nice":false,"zero":false},"axis":{"values":[1.0,1.2,1.4,1.6,1.8,2.0,2.2],"labelOverlap":false,"format":".1f","offset":10.7,"labelFontSize":8.5,"titleFontSize":11,"titlePadding":3}}},
            "layer":[
             {"mark":{"type":"point","filled":true,"size":64,"stroke":"#111","strokeWidth":1.2,"opacity":1},"encoding":{"xOffset":{"field":"j","type":"quantitative","scale":{"domain":[-4,4],"range":[-18,18]}},"fill":{"field":"g","type":"nominal","scale":{"domain":["MyeWT","MyeKO"],"range":["#5a5a5a","#ffffff"]},"legend":null}}},
             {"mark":{"type":"tick","orient":"horizontal","size":30,"thickness":1.6,"color":"#111"},"encoding":{"y":{"aggregate":"mean","field":"v","type":"quantitative","title":"LVIDs, mm","scale":{"domain":[1.0,2.2],"nice":false,"zero":false},"axis":{"values":[1.0,1.2,1.4,1.6,1.8,2.0,2.2],"labelOverlap":false,"format":".1f"}}}}
            ]},
           {"data":{"name":"pv"},"transform":[{"filter":"datum.p=='E2'"}],"mark":{"type":"text","fontSize":9,"fontWeight":"bold","fontStyle":"italic","color":"#111"},"encoding":{"text":{"field":"t"},"y":{"datum":1.885,"type":"quantitative","scale":{"domain":[1.0,2.2],"nice":false,"zero":false},"axis":{"values":[1.0,1.2,1.4,1.6,1.8,2.0,2.2],"labelOverlap":false,"format":".1f"}}}},
           {"data":{"name":"pv"},"transform":[{"filter":"datum.p=='E2'"}],"mark":{"type":"point","opacity":0},"encoding":{"x":{"datum":0,"type":"quantitative","scale":{"domain":[0,1]},"axis":{"orient":"top","title":"female mice","titleFontSize":12,"titlePadding":4.5}}}}
          ]}
       ],"spacing":51,"bounds":"flush"},
       {"hconcat":[
         {"hconcat":[
           {"width":69,"height":100,"title":{"text":"F","dx":-31.6,"dy":4.4},"resolve":{"scale":{"x":"independent"}},
            "layer":[
             {"data":{"name":"pts"},"transform":[{"filter":"datum.p=='F1'"}],
              "encoding":{"x":{"field":"g","type":"nominal","title":null,"scale":{"type":"point","domain":["MyeWT","MyeKO"],"padding":0.6},"axis":{"offset":11,"labelFontSize":9,"labelFontWeight":"bold"}},
                          "y":{"field":"v","type":"quantitative","title":"LVIDd, mm","scale":{"domain":[2.0,4.02],"nice":false,"zero":false},"axis":{"values":[2.0,2.5,3.0,3.5,4.0],"labelOverlap":false,"format":".1f","offset":11,"labelFontSize":8.5,"titleFontSize":11,"titlePadding":3}}},
              "layer":[
               {"mark":{"type":"point","filled":true,"size":64,"stroke":"#111","strokeWidth":1.2,"opacity":1},"encoding":{"xOffset":{"field":"j","type":"quantitative","scale":{"domain":[-4,4],"range":[-18,18]}},"fill":{"field":"g","type":"nominal","scale":{"domain":["MyeWT","MyeKO"],"range":["#5a5a5a","#ffffff"]},"legend":null}}},
               {"mark":{"type":"tick","orient":"horizontal","size":30,"thickness":1.6,"color":"#111"},"encoding":{"y":{"aggregate":"mean","field":"v","type":"quantitative","title":"LVIDd, mm","scale":{"domain":[2.0,4.02],"nice":false,"zero":false},"axis":{"values":[2.0,2.5,3.0,3.5,4.0],"labelOverlap":false,"format":".1f"}}}}
              ]},
             {"data":{"name":"pv"},"transform":[{"filter":"datum.p=='F1'"}],"mark":{"type":"text","fontSize":9,"fontWeight":"bold","fontStyle":"italic","color":"#111"},"encoding":{"text":{"field":"t"},"y":{"datum":3.67,"type":"quantitative","scale":{"domain":[2.0,4.02],"nice":false,"zero":false},"axis":{"values":[2.0,2.5,3.0,3.5,4.0],"labelOverlap":false,"format":".1f"}}}},
             {"data":{"name":"pv"},"transform":[{"filter":"datum.p=='F1'"}],"mark":{"type":"point","opacity":0},"encoding":{"x":{"datum":0,"type":"quantitative","scale":{"domain":[0,1]},"axis":{"orient":"top","title":"male mice","titleFontSize":12,"titlePadding":4.2}}}}
            ]},
           {"width":67,"height":100,"resolve":{"scale":{"x":"independent"}},
            "layer":[
             {"data":{"name":"pts"},"transform":[{"filter":"datum.p=='F2'"}],
              "encoding":{"x":{"field":"g","type":"nominal","title":null,"scale":{"type":"point","domain":["MyeWT","MyeKO"],"padding":0.6},"axis":{"offset":11,"labelFontSize":9,"labelFontWeight":"bold"}},
                          "y":{"field":"v","type":"quantitative","title":"LVIDd, mm","scale":{"domain":[2.0,4.02],"nice":false,"zero":false},"axis":{"values":[2.0,2.5,3.0,3.5,4.0],"labelOverlap":false,"format":".1f","offset":15,"labelFontSize":8.5,"titleFontSize":11,"titlePadding":2}}},
              "layer":[
               {"mark":{"type":"point","filled":true,"size":64,"stroke":"#111","strokeWidth":1.2,"opacity":1},"encoding":{"xOffset":{"field":"j","type":"quantitative","scale":{"domain":[-4,4],"range":[-18,18]}},"fill":{"field":"g","type":"nominal","scale":{"domain":["MyeWT","MyeKO"],"range":["#5a5a5a","#ffffff"]},"legend":null}}},
               {"mark":{"type":"tick","orient":"horizontal","size":30,"thickness":1.6,"color":"#111"},"encoding":{"y":{"aggregate":"mean","field":"v","type":"quantitative","title":"LVIDd, mm","scale":{"domain":[2.0,4.02],"nice":false,"zero":false},"axis":{"values":[2.0,2.5,3.0,3.5,4.0],"labelOverlap":false,"format":".1f"}}}}
              ]},
             {"data":{"name":"pv"},"transform":[{"filter":"datum.p=='F2'"}],"mark":{"type":"text","fontSize":9,"fontWeight":"bold","fontStyle":"italic","color":"#111"},"encoding":{"text":{"field":"t"},"y":{"datum":3.40,"type":"quantitative","scale":{"domain":[2.0,4.02],"nice":false,"zero":false},"axis":{"values":[2.0,2.5,3.0,3.5,4.0],"labelOverlap":false,"format":".1f"}}}},
             {"data":{"name":"pv"},"transform":[{"filter":"datum.p=='F2'"}],"mark":{"type":"point","opacity":0},"encoding":{"x":{"datum":0,"type":"quantitative","scale":{"domain":[0,1]},"axis":{"orient":"top","title":"female mice","titleFontSize":12,"titlePadding":2.5}}}}
            ]}
         ],"spacing":46.7,"bounds":"flush"},
         {"hconcat":[
           {"width":68,"height":103.3,"title":{"text":"G","dx":-57.4,"dy":8.7},"resolve":{"scale":{"x":"independent"}},
            "layer":[
             {"data":{"name":"pts"},"transform":[{"filter":"datum.p=='G1'"}],
              "encoding":{"x":{"field":"g","type":"nominal","title":null,"scale":{"type":"point","domain":["MyeWT","MyeKO"],"padding":0.75},"axis":{"offset":11.7,"labelFontSize":9,"labelFontWeight":"bold"}},
                          "y":{"field":"v","type":"quantitative","title":"heart weight/ body weight","scale":{"domain":[3,7.234],"nice":false,"zero":false},"axis":{"values":[3,4,5,6,7],"labelOverlap":false,"offset":8.7,"labelFontSize":8.5,"titleFontSize":11,"titlePadding":5}}},
              "layer":[
               {"mark":{"type":"point","filled":true,"size":64,"stroke":"#111","strokeWidth":1.2,"opacity":1},"encoding":{"xOffset":{"field":"j","type":"quantitative","scale":{"domain":[-4,4],"range":[-18,18]}},"fill":{"field":"g","type":"nominal","scale":{"domain":["MyeWT","MyeKO"],"range":["#5a5a5a","#ffffff"]},"legend":null}}},
               {"mark":{"type":"tick","orient":"horizontal","size":30,"thickness":1.6,"color":"#111"},"encoding":{"y":{"aggregate":"mean","field":"v","type":"quantitative","title":"heart weight/ body weight","scale":{"domain":[3,7.234],"nice":false,"zero":false},"axis":{"values":[3,4,5,6,7],"labelOverlap":false}}}}
              ]},
             {"data":{"name":"pv"},"transform":[{"filter":"datum.p=='G1'"}],"mark":{"type":"text","fontSize":9,"color":"#111"},"encoding":{"text":{"field":"t"},"y":{"datum":6.80,"type":"quantitative","scale":{"domain":[3,7.234],"nice":false,"zero":false},"axis":{"values":[3,4,5,6,7],"labelOverlap":false}}}},
             {"data":{"name":"pv"},"transform":[{"filter":"datum.p=='G1'"}],"mark":{"type":"point","opacity":0},"encoding":{"x":{"datum":0,"type":"quantitative","scale":{"domain":[0,1]},"axis":{"orient":"top","title":"male mice","titleFontSize":12,"titlePadding":3.5}}}}
            ]},
           {"width":67,"height":103.3,"resolve":{"scale":{"x":"independent"}},
            "layer":[
             {"data":{"name":"pts"},"transform":[{"filter":"datum.p=='G2'"}],
              "encoding":{"x":{"field":"g","type":"nominal","title":null,"scale":{"type":"point","domain":["MyeWT","MyeKO"],"padding":0.75},"axis":{"offset":11.7,"labelFontSize":9,"labelFontWeight":"bold"}},
                          "y":{"field":"v","type":"quantitative","title":"heart weight/ body weight","scale":{"domain":[3,7.234],"nice":false,"zero":false},"axis":{"values":[3,4,5,6,7],"labelOverlap":false,"offset":10.7,"labelFontSize":8.5,"titleFontSize":11,"titlePadding":5}}},
              "layer":[
               {"mark":{"type":"point","filled":true,"size":64,"stroke":"#111","strokeWidth":1.2,"opacity":1},"encoding":{"xOffset":{"field":"j","type":"quantitative","scale":{"domain":[-4,4],"range":[-18,18]}},"fill":{"field":"g","type":"nominal","scale":{"domain":["MyeWT","MyeKO"],"range":["#5a5a5a","#ffffff"]},"legend":null}}},
               {"mark":{"type":"tick","orient":"horizontal","size":30,"thickness":1.6,"color":"#111"},"encoding":{"y":{"aggregate":"mean","field":"v","type":"quantitative","title":"heart weight/ body weight","scale":{"domain":[3,7.234],"nice":false,"zero":false},"axis":{"values":[3,4,5,6,7],"labelOverlap":false}}}}
              ]},
             {"data":{"name":"pv"},"transform":[{"filter":"datum.p=='G2'"}],"mark":{"type":"text","fontSize":9,"color":"#111"},"encoding":{"text":{"field":"t"},"y":{"datum":5.98,"type":"quantitative","scale":{"domain":[3,7.234],"nice":false,"zero":false},"axis":{"values":[3,4,5,6,7],"labelOverlap":false}}}},
             {"data":{"name":"pv"},"transform":[{"filter":"datum.p=='G2'"}],"mark":{"type":"point","opacity":0},"encoding":{"x":{"datum":0,"type":"quantitative","scale":{"domain":[0,1]},"axis":{"orient":"top","title":"female mice","titleFontSize":12,"titlePadding":3.5}}}}
            ]}
         ],"spacing":52,"bounds":"flush"}
       ],"spacing":252.4,"bounds":"flush"}
     ],"spacing":252.6,"bounds":"flush"}
   ],"spacing":37.4,"bounds":"flush"}
 ],"spacing":194.3,"bounds":"flush"}
]
}
